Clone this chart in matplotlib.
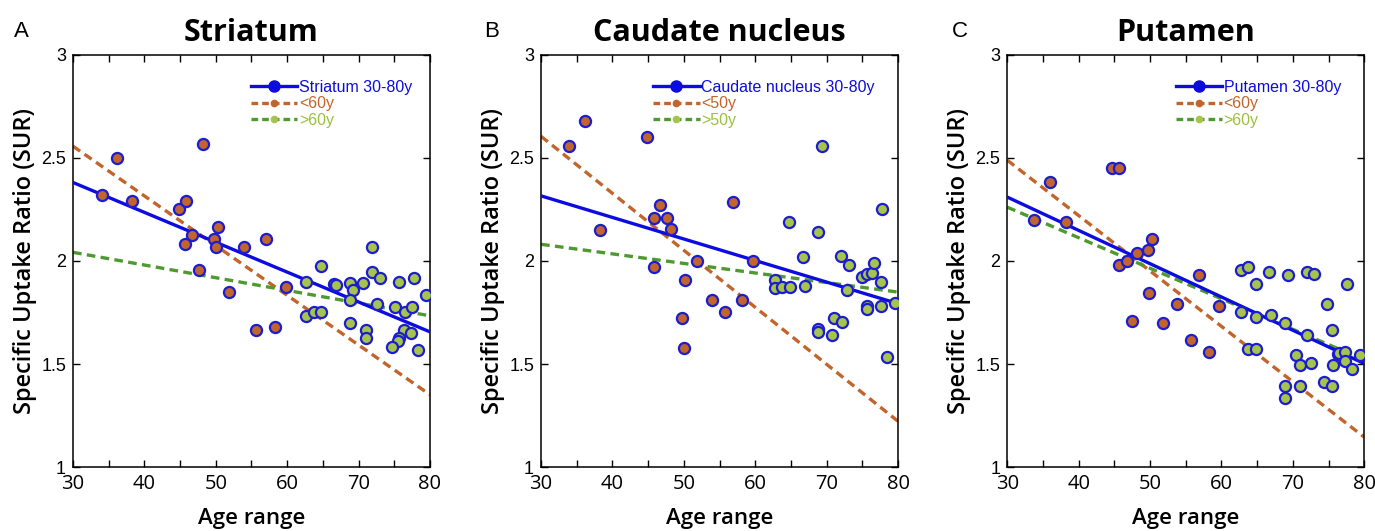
import matplotlib.pyplot as plt
from matplotlib.lines import Line2D

# panel A - striatum
striatum_young_age = [34.0, 36.2, 38.3, 44.9, 45.8, 48.2, 46.7, 45.7, 50.3, 49.7, 50.0, 47.7, 51.9, 53.9, 57.0, 55.7, 58.3, 59.8]
striatum_young_sur = [2.318, 2.50, 2.292, 2.25, 2.292, 2.568, 2.127, 2.084, 2.167, 2.109, 2.068, 1.958, 1.849, 2.067, 2.109, 1.667, 1.682, 1.875]
striatum_old_age = [62.7, 64.8, 62.6, 63.7, 64.8, 66.6, 66.8, 68.8, 69.2, 68.8, 68.8, 70.6, 71.9, 71.9, 73.0, 72.6, 71.0, 71.0,
                    75.1, 75.6, 76.5, 76.4, 75.7, 75.5, 74.7, 77.5, 77.4, 77.8, 78.3, 79.4]
striatum_old_sur = [1.90, 1.974, 1.734, 1.75, 1.75, 1.89, 1.883, 1.891, 1.859, 1.812, 1.70, 1.893, 2.067, 1.945, 1.916, 1.792, 1.667, 1.625,
                    1.776, 1.90, 1.75, 1.667, 1.625, 1.61, 1.584, 1.776, 1.649, 1.916, 1.57, 1.833]

# panel B - caudate nucleus
caudate_young_age = [33.9, 36.1, 44.8, 38.2, 46.7, 45.8, 47.6, 48.2, 45.8, 51.8, 50.2, 49.7, 50.0, 53.9, 55.7, 58.2, 56.9, 59.7]
caudate_young_sur = [2.557, 2.681, 2.60, 2.152, 2.272, 2.209, 2.209, 2.156, 1.971, 2.0, 1.906, 1.723, 1.579, 1.81, 1.75, 1.81, 2.285, 2.0]
caudate_old_age = [62.8, 62.8, 63.7, 64.9, 64.8, 66.7, 67.0, 68.8, 69.4, 68.8, 68.8, 70.8, 71.1, 72.1, 72.0, 73.1, 72.8, 74.9,
                   75.6, 76.3, 76.6, 77.6, 75.7, 75.7, 77.6, 77.7, 78.5, 79.6]
caudate_old_sur = [1.908, 1.869, 1.875, 1.875, 2.19, 2.018, 1.877, 2.143, 2.557, 1.671, 1.655, 1.639, 1.723, 1.703, 2.023, 1.982, 1.859, 1.922,
                   1.937, 1.943, 1.99, 1.896, 1.783, 1.767, 1.781, 2.254, 1.532, 1.797]

# panel C - putamen
putamen_young_age = [33.8, 36.0, 38.2, 44.7, 45.7, 45.7, 46.7, 48.2, 49.7, 50.2, 49.9, 47.5, 51.8, 53.8, 55.7, 56.9, 58.3, 59.7]
putamen_young_sur = [2.198, 2.385, 2.188, 2.451, 2.451, 1.982, 2.0, 2.039, 2.054, 2.106, 1.847, 1.708, 1.70, 1.792, 1.617, 1.932, 1.558, 1.781]
putamen_old_age = [62.7, 63.7, 64.9, 62.7, 64.8, 63.7, 64.9, 66.6, 66.9, 69.3, 68.9, 68.9, 68.9, 72.0, 73.0, 72.0, 70.5, 71.0, 72.6, 71.0,
                   74.8, 75.5, 74.4, 75.5, 75.6, 76.3, 76.5, 77.3, 77.6, 77.3, 78.3, 79.4]
putamen_old_sur = [1.956, 1.971, 1.89, 1.752, 1.726, 1.575, 1.575, 1.946, 1.74, 1.932, 1.698, 1.394, 1.336, 1.946, 1.938, 1.641, 1.544, 1.494, 1.503, 1.394,
                   1.79, 1.666, 1.411, 1.394, 1.494, 1.547, 1.552, 1.557, 1.89, 1.516, 1.474, 1.544]

# fitted lines, end points
fit_x = [30, 80]
striatum_all_fit = [2.381, 1.656]
striatum_young_fit = [2.557, 1.351]
striatum_old_fit = [2.042, 1.734]
caudate_all_fit = [2.316, 1.793]
caudate_young_fit = [2.605, 1.222]
caudate_old_fit = [2.081, 1.849]
putamen_all_fit = [2.31, 1.502]
putamen_young_fit = [2.489, 1.145]
putamen_old_fit = [2.261, 1.52]

titles = ['Striatum', 'Caudate nucleus', 'Putamen']
letters = ['A', 'B', 'C']
legend_labels = [['Striatum 30-80y', '<60y', '>60y'],
                 ['Caudate nucleus 30-80y', '<50y', '>50y'],
                 ['Putamen 30-80y', '<60y', '>60y']]

BLUE = '#0c0ce0'
EDGE = '#1c1cd0'
BROWN = '#c2652c'
GREEN_LINE = '#4e9a30'
GREEN_FILL = '#a6c44c'
GREEN_TEXT = '#9cbf3c'

panels = [
    (striatum_young_age, striatum_young_sur, striatum_old_age, striatum_old_sur, striatum_all_fit, striatum_young_fit, striatum_old_fit),
    (caudate_young_age, caudate_young_sur, caudate_old_age, caudate_old_sur, caudate_all_fit, caudate_young_fit, caudate_old_fit),
    (putamen_young_age, putamen_young_sur, putamen_old_age, putamen_old_sur, putamen_all_fit, putamen_young_fit, putamen_old_fit),
]

fig = plt.figure(figsize=(13.75, 5.31), dpi=100)
lefts = [0.0531, 0.3935, 0.7326]
letter_x = [0.010, 0.352, 0.692]
legend_right = [0.99, 0.975, 0.975]

for i, (ya, ys, oa, os_, fall, fyoung, fold) in enumerate(panels):
    ax = fig.add_axes([lefts[i], 0.1205, 0.2596, 0.776])
    ax.plot(fit_x, fyoung, color=BROWN, lw=2.4, ls=(0, (2.6, 1.6)), zorder=2)
    ax.plot(fit_x, fold, color=GREEN_LINE, lw=2.4, ls=(0, (2.6, 1.6)), zorder=2)
    ax.plot(fit_x, fall, color=BLUE, lw=2.4, zorder=3)
    ax.plot(ya, ys, 'o', ms=8, mfc=BROWN, mec=EDGE, mew=1.6, zorder=4)
    ax.plot(oa, os_, 'o', ms=8, mfc=GREEN_FILL, mec=EDGE, mew=1.6, zorder=4)

    ax.set_xlim(30, 80)
    ax.set_ylim(1, 3)
    ax.set_xticks(range(30, 81, 10))
    ax.set_xticks(range(35, 80, 10), minor=True)
    ax.set_yticks([1, 1.5, 2, 2.5, 3])
    ax.set_yticklabels(['1', '1.5', '2', '2.5', '3'], family='Liberation Sans', fontsize=13)
    ax.set_xticklabels([str(v) for v in range(30, 81, 10)], family='Open Sans', fontsize=14.5)
    ax.tick_params(direction='in', top=True, right=True, length=5, width=1, which='both', pad=5)
    for sp in ax.spines.values():
        sp.set_linewidth(1.1)

    ax.set_title(titles[i], fontsize=22, fontweight='bold', family='Open Sans', pad=10)
    ax.set_xlabel('Age range', fontsize=16, family='Open Sans', fontweight='semibold', labelpad=10)
    ax.set_ylabel('Specific Uptake Ratio (SUR)', fontsize=17, family='Open Sans', fontweight='semibold', labelpad=3)
    fig.text(letter_x[i], 0.93, letters[i], fontsize=16, family='Liberation Sans')

    handles = [
        Line2D([], [], color=BLUE, lw=2.4, marker='o', ms=8, mfc=BLUE, mec=BLUE),
        Line2D([], [], color=BROWN, lw=2.4, ls=(0, (2.0, 1.2)), marker='o', ms=4.5, mfc=BROWN, mec=BROWN),
        Line2D([], [], color=GREEN_LINE, lw=2.4, ls=(0, (2.0, 1.2)), marker='o', ms=4.5, mfc=GREEN_FILL, mec=GREEN_FILL),
    ]
    leg = ax.legend(handles, legend_labels[i], loc='upper right', bbox_to_anchor=(legend_right[i], 0.975),
                    frameon=False, handlelength=2.9, handletextpad=0.1, labelspacing=0.1,
                    prop={'family': 'Liberation Sans', 'size': 11.5})
    for txt, c in zip(leg.get_texts(), [BLUE, BROWN, GREEN_TEXT]):
        txt.set_color(c)

plt.savefig('out.png', dpi=100)
